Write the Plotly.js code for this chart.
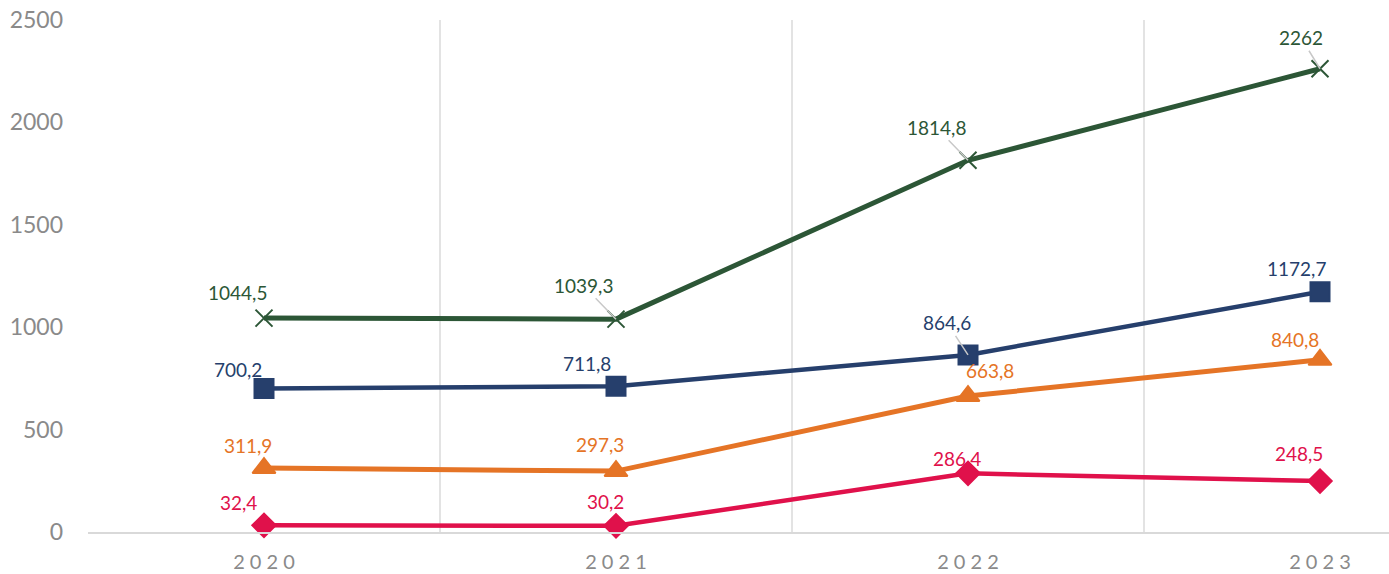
<!DOCTYPE html>
<html>
<head>
<meta charset="utf-8">
<script src="https://cdn.plot.ly/plotly-3.0.1.min.js"></script>
<style>html,body{margin:0;padding:0;background:#fff;overflow:hidden}#chart{width:1389px;height:574px}</style>
</head>
<body>
<div id="chart"></div>
<script>
const years = ['2020', '2021', '2022', '2023'];
const greenValues = [1044.5, 1039.3, 1814.8, 2262];
const navyValues = [700.2, 711.8, 864.6, 1172.7];
const orangeValues = [311.9, 297.3, 663.8, 840.8];
const redValues = [32.4, 30.2, 286.4, 248.5];
const yTicks = [0, 500, 1000, 1500, 2000, 2500];

const fmt = v => String(v).replace('.', ',');

const series = [
  {vals: greenValues, color: '#2C5636', symbol: 'x-thin-open', size: 17, width: 5,
   off: [[-27,-26,false],[-33,-34,true],[-32,-33,true],[-19,-31,true]]},
  {vals: navyValues, color: '#263F6C', symbol: 'square', size: 19, width: 4.5,
   off: [[-26,-19,false],[-29,-23,false],[-21,-32,true],[-24,-23,false]]},
  {vals: orangeValues, color: '#E57426', symbol: 'triangle-up', size: 20, width: 5,
   off: [[-16,-23,false],[-16,-27,false],[22,-26,false],[-25,-20,false]]},
  {vals: redValues, color: '#E0114B', symbol: 'diamond', size: 18, width: 4.5,
   off: [[-26,-23,false],[-11,-24,false],[-11,-15,false],[-21,-28,false]]}
];

const traces = series.map(s => ({
  x: years, y: s.vals, type: 'scatter', mode: 'lines+markers',
  line: {color: s.color, width: s.width},
  marker: {symbol: s.symbol, size: s.size, color: s.color, line: {color: s.color, width: 2}},
  hoverinfo: 'skip', showlegend: false, cliponaxis: false
}));

const labelFont = c => ({family: 'Lato, "Open Sans", sans-serif', size: 19, color: c});
const annotations = [];
series.forEach(s => {
  s.vals.forEach((v, i) => {
    const [dx, dy, leader] = s.off[i];
    if (leader) {
      annotations.push({
        x: i, y: v, xref: 'x', yref: 'y', text: fmt(v),
        showarrow: true, arrowhead: 0, arrowwidth: 1.5, arrowcolor: '#c8c8c8',
        ax: dx, ay: dy, standoff: 0, font: labelFont(s.color)
      });
    } else {
      annotations.push({
        x: i, y: v, xref: 'x', yref: 'y', text: fmt(v),
        showarrow: false, xshift: dx, yshift: -dy, font: labelFont(s.color)
      });
    }
  });
});

const layout = {
  width: 1389, height: 574,
  margin: {l: 88, r: 0, t: 20, b: 42},
  paper_bgcolor: '#ffffff', plot_bgcolor: '#ffffff',
  font: {family: 'Lato, "Open Sans", sans-serif'},
  xaxis: {
    type: 'category', range: [-0.5, 3.196],
    tickvals: years, ticktext: years.map(y => y.split('').join(' ')),
    tickson: 'boundaries', ticks: '',
    showgrid: true, gridcolor: '#e3e3e3', gridwidth: 2,
    showline: true, linecolor: '#d9d9d9', linewidth: 2,
    tickfont: {size: 20, color: '#8a8a8a'}, ticklabelstandoff: 11,
    zeroline: false, fixedrange: true
  },
  yaxis: {
    range: [0, 2500], tickvals: yTicks, ticktext: yTicks.map(String),
    showgrid: false, zeroline: false, showline: false, ticks: '',
    tickfont: {size: 23, color: '#8a8a8a'}, ticklabelstandoff: 24,
    fixedrange: true
  },
  annotations: annotations,
  showlegend: false
};

Plotly.newPlot('chart', traces, layout, {displayModeBar: false, staticPlot: true});
</script>
</body>
</html>
